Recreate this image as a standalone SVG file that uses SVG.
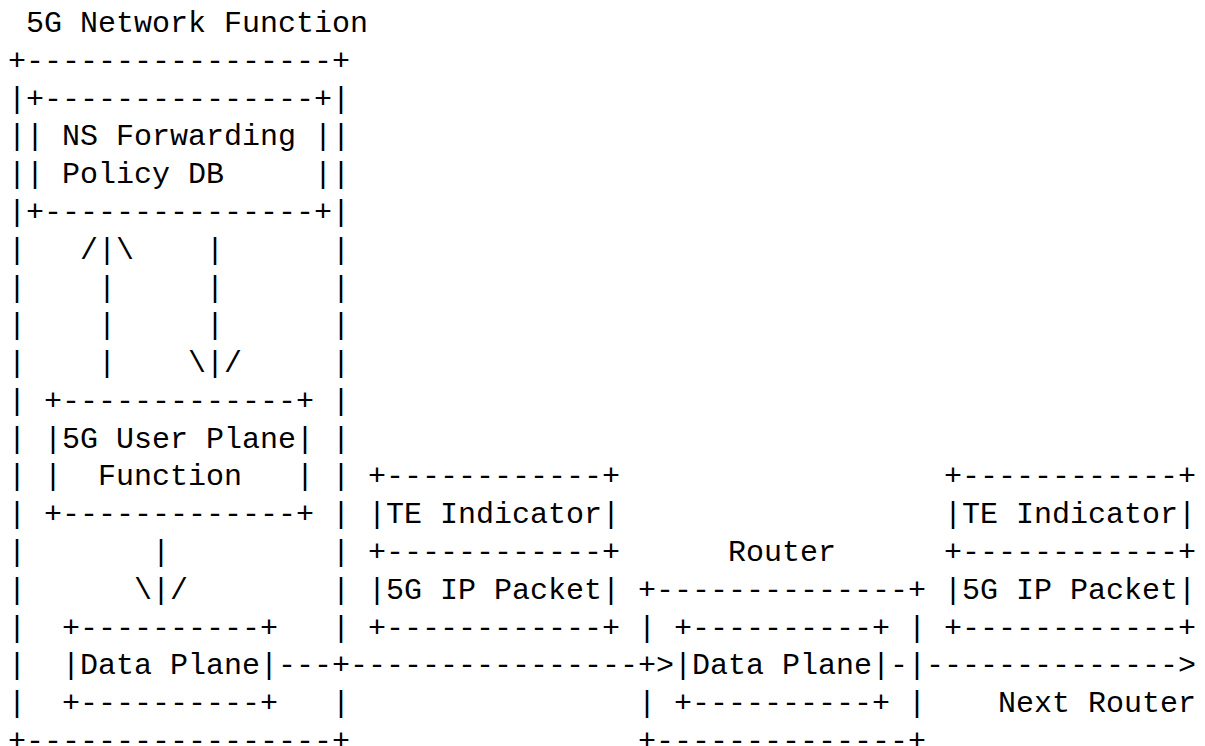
<svg xmlns="http://www.w3.org/2000/svg" width="1205" height="746" viewBox="0 0 1205 746" xml:space="preserve">
<style>
text { font-family: "Liberation Mono", "DejaVu Sans Mono", monospace; font-size: 30px; fill: #000; white-space: pre; }
</style>
<rect x="0" y="0" width="1205" height="746" fill="#fff"/>
<g id="nf-5g">
<text x="26" y="32">5G Network Function</text>
<text x="8" y="69.8">+-----------------+</text>
<text x="8" y="107.6">|</text><text x="332" y="107.6">|</text>
<text x="8" y="145.3">|</text><text x="332" y="145.3">|</text>
<text x="8" y="183.1">|</text><text x="332" y="183.1">|</text>
<text x="8" y="220.9">|</text><text x="332" y="220.9">|</text>
<text x="8" y="258.7">|</text><text x="332" y="258.7">|</text>
<text x="8" y="296.5">|</text><text x="332" y="296.5">|</text>
<text x="8" y="334.2">|</text><text x="332" y="334.2">|</text>
<text x="8" y="372">|</text><text x="332" y="372">|</text>
<text x="8" y="409.8">|</text><text x="332" y="409.8">|</text>
<text x="8" y="447.6">|</text><text x="332" y="447.6">|</text>
<text x="8" y="485.4">|</text><text x="332" y="485.4">|</text>
<text x="8" y="523.1">|</text><text x="332" y="523.1">|</text>
<text x="8" y="560.9">|</text><text x="332" y="560.9">|</text>
<text x="8" y="598.7">|</text><text x="332" y="598.7">|</text>
<text x="8" y="636.5">|</text><text x="332" y="636.5">|</text>
<text x="8" y="674.3">|</text><text x="332" y="674.3">+</text>
<text x="8" y="712">|</text><text x="332" y="712">|</text>
<text x="8" y="749.8">+-----------------+</text>
</g>
<g id="policy-db">
<text x="26" y="107.6">+---------------+</text>
<text x="26" y="145.3">| NS Forwarding |</text>
<text x="26" y="183.1">| Policy DB     |</text>
<text x="26" y="220.9">+---------------+</text>
</g>
<g id="upf">
<text x="44" y="409.8">+-------------+</text>
<text x="44" y="447.6">|5G User Plane|</text>
<text x="44" y="485.4">|  Function   |</text>
<text x="44" y="523.1">+-------------+</text>
</g>
<g id="dp-nf">
<text x="62" y="636.5">+----------+</text>
<text x="62" y="674.3">|Data Plane|</text>
<text x="62" y="712">+----------+</text>
</g>
<g id="packet-1">
<text x="368" y="485.4">+------------+</text>
<text x="368" y="523.1">|TE Indicator|</text>
<text x="368" y="560.9">+------------+</text>
<text x="368" y="598.7">|5G IP Packet|</text>
<text x="368" y="636.5">+------------+</text>
</g>
<g id="router">
<text x="728" y="560.9">Router</text>
<text x="638" y="598.7">+--------------+</text>
<text x="638" y="636.5">|</text><text x="908" y="636.5">|</text>
<text x="638" y="674.3">+</text><text x="908" y="674.3">|</text>
<text x="638" y="712">|</text><text x="908" y="712">|</text>
<text x="638" y="749.8">+--------------+</text>
</g>
<g id="dp-router">
<text x="674" y="636.5">+----------+</text>
<text x="674" y="674.3">|Data Plane|</text>
<text x="674" y="712">+----------+</text>
</g>
<g id="packet-2">
<text x="944" y="485.4">+------------+</text>
<text x="944" y="523.1">|TE Indicator|</text>
<text x="944" y="560.9">+------------+</text>
<text x="944" y="598.7">|5G IP Packet|</text>
<text x="944" y="636.5">+------------+</text>
</g>
<g id="next-router">
<text x="998" y="712">Next Router</text>
</g>
<g id="connectors">
<text x="80" y="258.7">/|\</text>
<text x="98" y="296.5">|</text>
<text x="98" y="334.2">|</text>
<text x="98" y="372">|</text>
<text x="206" y="258.7">|</text>
<text x="206" y="296.5">|</text>
<text x="206" y="334.2">|</text>
<text x="188" y="372">\|/</text>
<text x="152" y="560.9">|</text>
<text x="134" y="598.7">\|/</text>
<text x="278" y="674.3">---</text>
<text x="350" y="674.3">----------------</text>
<text x="656" y="674.3">&gt;</text>
<text x="890" y="674.3">-</text>
<text x="926" y="674.3">--------------&gt;</text>
</g>
</svg>
